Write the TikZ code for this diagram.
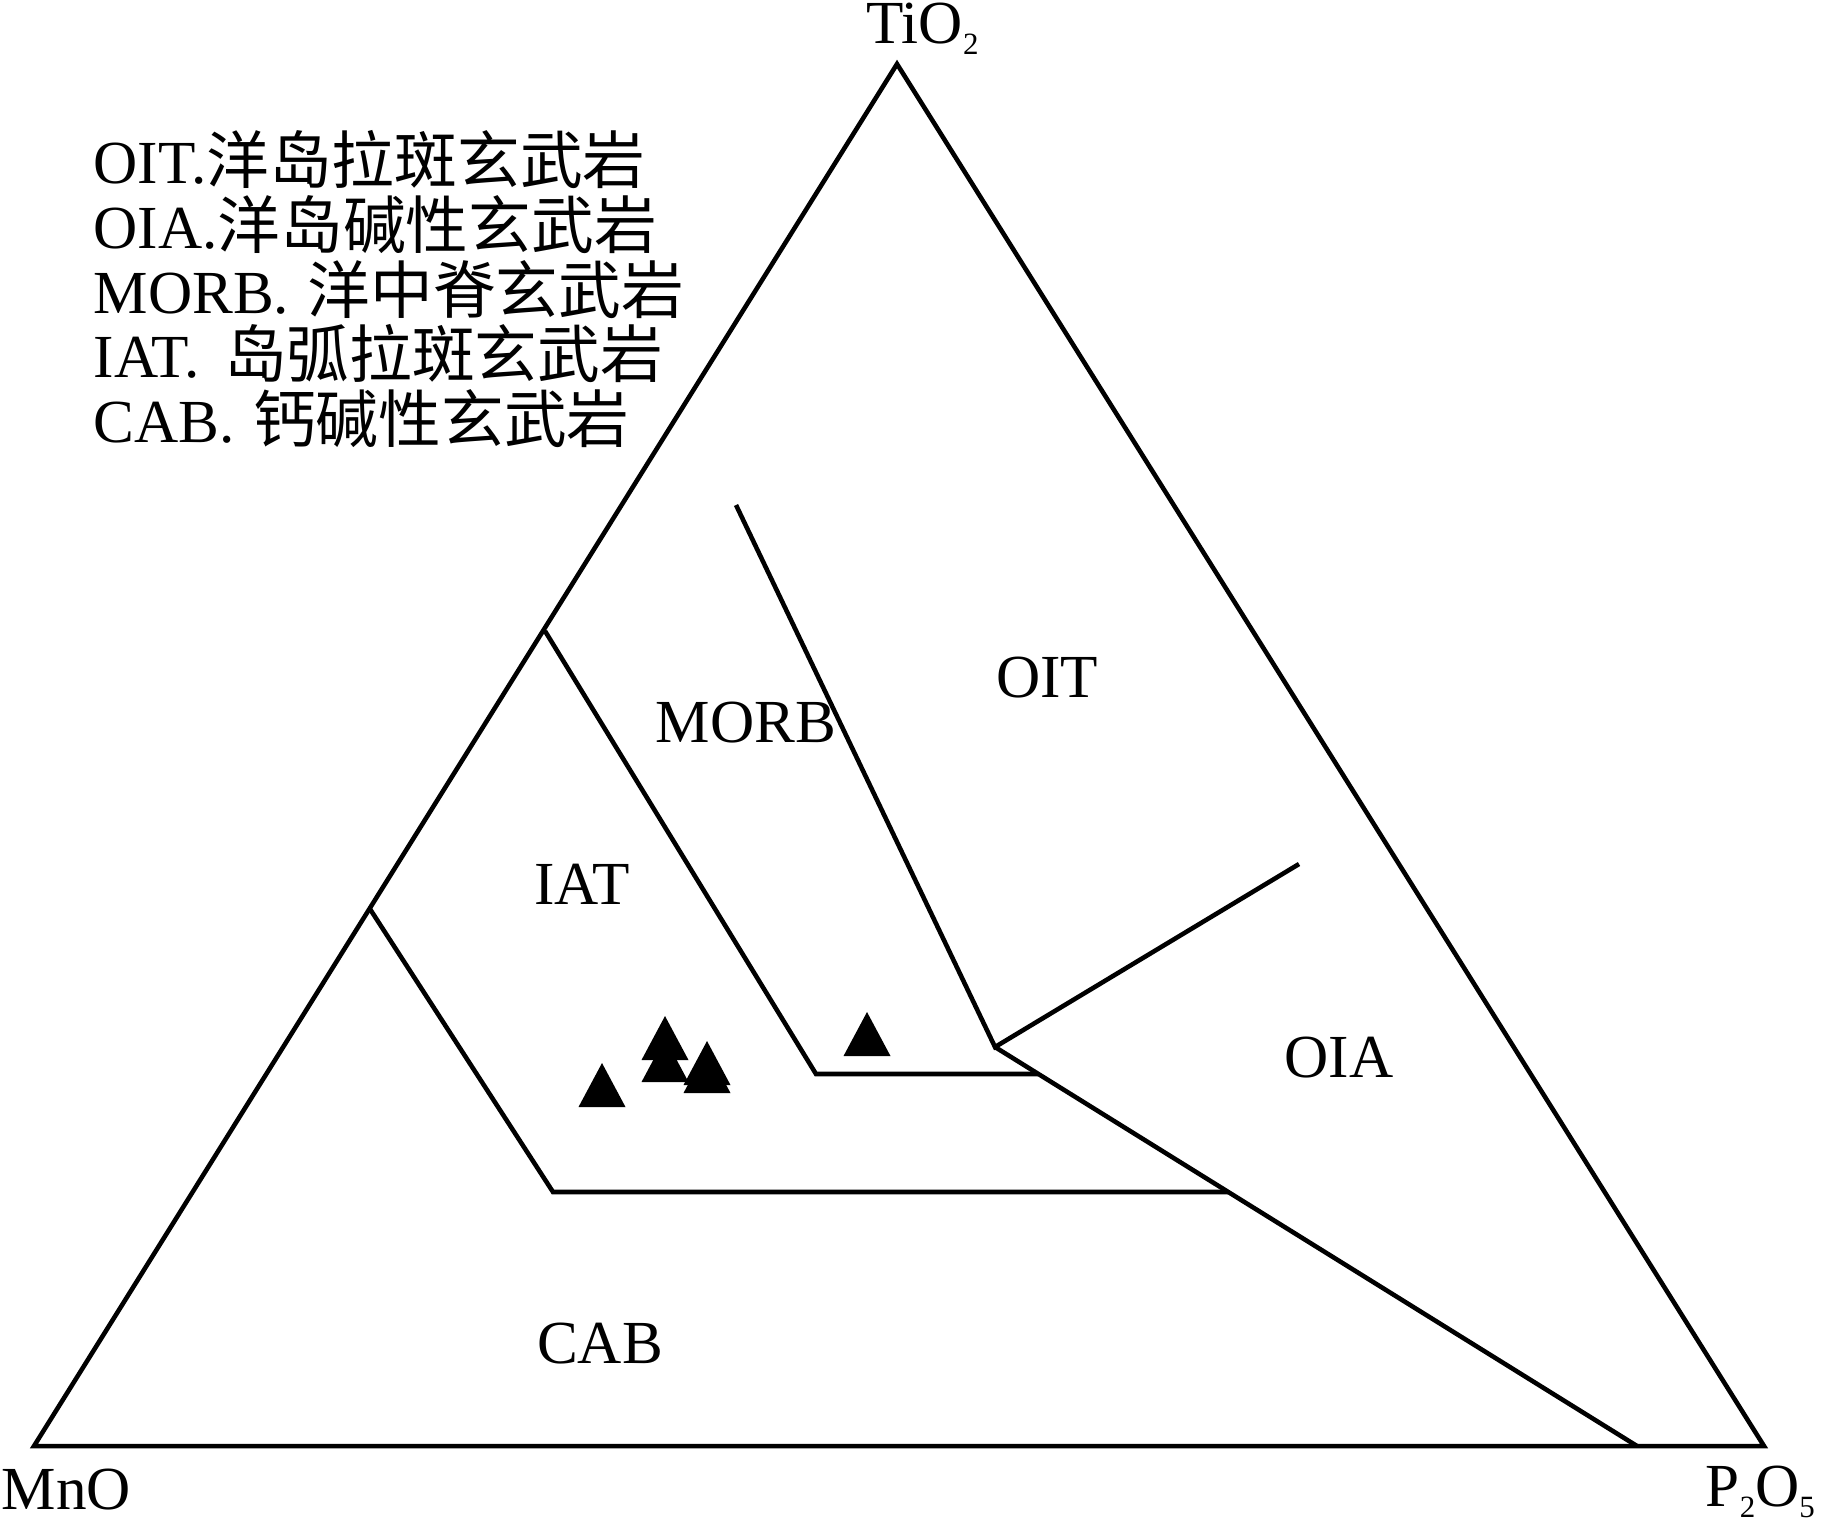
\documentclass[tikz,border=0pt]{standalone}
\usepackage{fontspec}
\setmainfont{Liberation Serif}
\newfontfamily\cjk[Scale=1.025]{Noto Sans CJK SC}
\newcommand\subn[1]{\raisebox{-3.2pt}{\fontsize{8.8pt}{10pt}\selectfont #1}}
\newcommand\tri[2]{\fill[black] (#1-23.5,#2) -- (#1+23.5,#2) -- (#1,#2-44) -- cycle;}
\begin{document}
\begin{tikzpicture}[x=0.01cm,y=-0.01cm,
  lbl/.style={inner sep=0pt, font=\fontsize{17.4pt}{20pt}\selectfont},
  bnd/.style={draw=black, line width=1.3pt, line join=miter}]
\useasboundingbox (0,0) rectangle (1822,1517);
% outer triangle
\coordinate (A) at (897,64);
\coordinate (B) at (34,1446);
\coordinate (C) at (1764,1446);
\draw[bnd] (A) -- (B) -- (C) -- cycle;
% field boundaries
\coordinate (mt) at (736,505);
\coordinate (J) at (995,1047);
\coordinate (oe) at (1299,864);
\coordinate (cb) at (1637,1446);
\coordinate (ml) at (545,631);
\coordinate (mc) at (816,1074);
\coordinate (mr) at (1038,1074);
\coordinate (il) at (370,909);
\coordinate (ic) at (553,1192);
\coordinate (ir) at (1228,1192);
\draw[bnd] (mt) -- (J) -- (oe);
\draw[bnd] (J) -- (cb);
\draw[bnd] (ml) -- (mc) -- (mr);
\draw[bnd] (il) -- (ic) -- (ir);
% vertex labels
\node[lbl, anchor=base west] (tio) at (866,43) {TiO\subn{2}};
\node[lbl, anchor=base west] (mno) at (1,1509) {MnO};
\node[lbl, anchor=base west] (pto) at (1705,1506) {P\subn{2}O\subn{5}};
% field labels
\node[lbl, anchor=base] (oit) at (1047,697) {OIT};
\node[lbl, anchor=base] (morb) at (746,742) {MORB};
\node[lbl, anchor=base] (iat) at (582,904) {IAT};
\node[lbl, anchor=base] (oia) at (1339,1077) {OIA};
\node[lbl, anchor=base] (cab) at (600,1363) {CAB};
% legend
\node[lbl, anchor=base west] (l1) at (93,183) {OIT.{\cjk 洋岛拉斑玄武岩}};
\node[lbl, anchor=base west] (l2) at (93,248) {OIA.{\cjk 洋岛碱性玄武岩}};
\node[lbl, anchor=base west] (l3) at (93,313) {MORB.\hspace{0.3em}{\cjk 洋中脊玄武岩}};
\node[lbl, anchor=base west] (l4) at (93,377) {IAT.\hspace{0.4em}{\cjk 岛弧拉斑玄武岩}};
\node[lbl, anchor=base west] (l5) at (93,442) {CAB.\hspace{0.3em}{\cjk 钙碱性玄武岩}};
% data points
\tri{602}{1107}
\tri{665}{1082}
\tri{665}{1060}
\tri{707}{1093}
\tri{707}{1085}
\tri{867}{1056}
\end{tikzpicture}
\end{document}
